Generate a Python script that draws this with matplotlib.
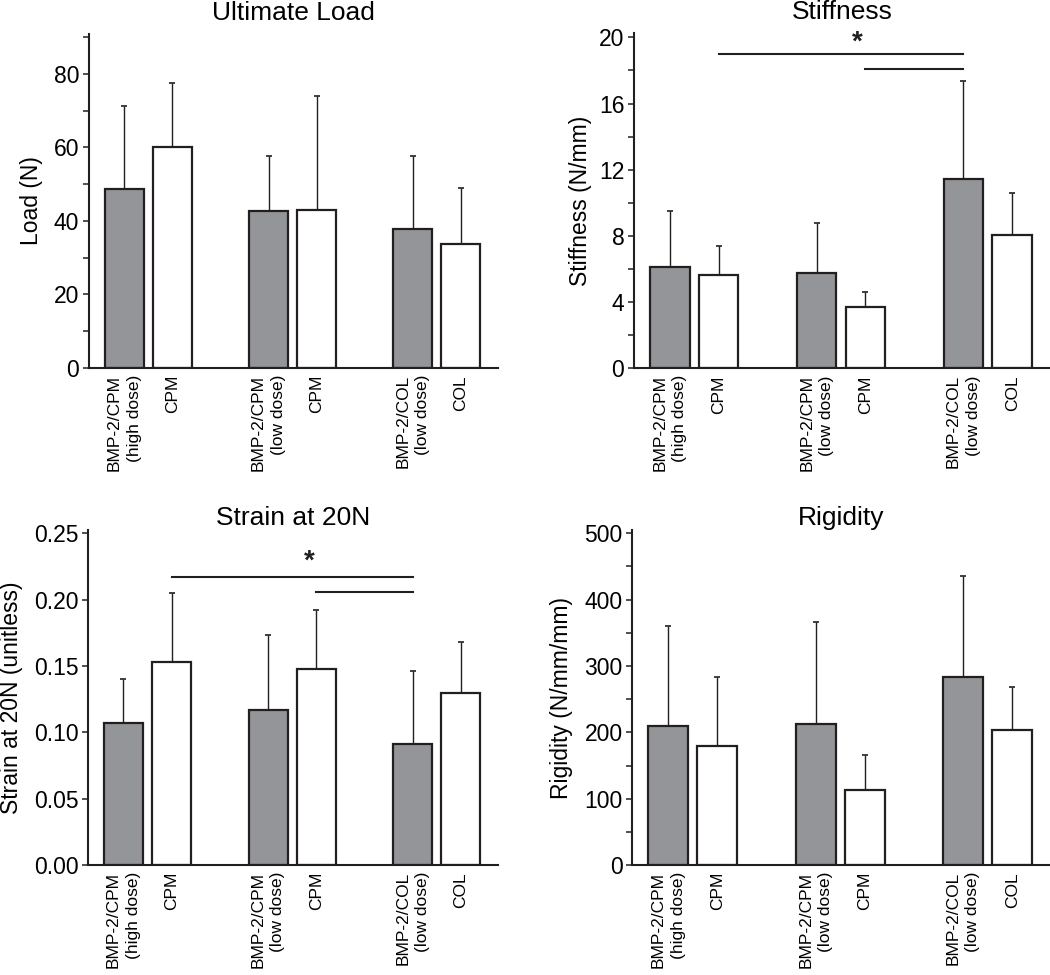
import matplotlib.pyplot as plt, numpy as np

plt.rcParams['font.family'] = ['Liberation Sans', 'DejaVu Sans']

groups = ["BMP-2/CPM\n(high dose)", "CPM", "BMP-2/CPM\n(low dose)", "CPM", "BMP-2/COL\n(low dose)", "COL"]
x_pos = [0, 1, 3, 4, 6, 7]
gray = "#939598"
ink = "#231f20"
fills = [gray, "white", gray, "white", gray, "white"]

# means and upper SD
load_mean = [48.6, 60.2, 42.6, 42.9, 37.8, 33.7]
load_sd = [22.7, 17.4, 15.1, 31.1, 19.9, 15.2]

stiff_mean = [6.10, 5.64, 5.78, 3.72, 11.42, 8.07]
stiff_sd = [3.40, 1.75, 3.02, 0.89, 5.96, 2.54]

strain_mean = [0.107, 0.153, 0.117, 0.1475, 0.091, 0.130]
strain_sd = [0.033, 0.052, 0.056, 0.0445, 0.0555, 0.038]

rigid_mean = [210, 180, 213, 113, 284, 203]
rigid_sd = [151, 103, 153, 53, 152, 65]

# significance brackets: (x from, x to, y)
stiff_sig = [(1, 6, 19.0), (4, 6, 18.07)]
stiff_star = (3.83, 19.7)
strain_sig = [(1, 6, 0.2168), (4, 6, 0.206)]
strain_star = (3.86, 0.2285)

fig = plt.figure(figsize=(10.5, 9.75), dpi=100)
ax1 = fig.add_axes([0.0848, 0.6226, 0.3895, 0.343])
ax2 = fig.add_axes([0.6038, 0.6223, 0.3962, 0.3436])
ax3 = fig.add_axes([0.0841, 0.1128, 0.3902, 0.3436])
ax4 = fig.add_axes([0.6022, 0.1128, 0.3978, 0.3436])


def panel(ax, means, sds, title, ylabel, top, major, minor, title_pad, label_x):
    ax.bar(x_pos, means, width=0.81, color=fills, edgecolor=ink, linewidth=1.6,
           yerr=[np.zeros(len(sds)), sds],
           error_kw=dict(ecolor=ink, elinewidth=1.0, capsize=2.5, capthick=1.2))
    ax.set_xlim(-0.73, 7.77)
    ax.set_ylim(0, top)
    ax.set_yticks(major)
    ax.set_yticks(minor, minor=True)
    ax.set_xticks(x_pos, groups, rotation=90, ha='center', va='top', ma='right',
                  fontsize=12.5, linespacing=1.4)
    ax.tick_params(axis='x', length=0, pad=5)
    ax.tick_params(axis='y', which='both', length=4, width=1.1, color=ink, labelsize=16.5, pad=3)
    for s in ['top', 'right']:
        ax.spines[s].set_visible(False)
    for s in ['left', 'bottom']:
        ax.spines[s].set_linewidth(1.5)
        ax.spines[s].set_color(ink)
    ax.set_title(title, fontsize=19, pad=title_pad)
    ax.set_ylabel(ylabel, fontsize=16.5)
    ax.yaxis.set_label_coords(label_x, 0.5)


def sig(ax, lines, star):
    for x0, x1, y in lines:
        ax.plot([x0, x1], [y, y], color=ink, lw=1.5)
    ax.text(star[0], star[1], "*", fontsize=20, fontweight='bold', ha='center', va='center', color=ink)


panel(ax1, load_mean, load_sd, "Ultimate Load", "Load (N)", 91,
      np.arange(0, 81, 20), np.arange(10, 91, 20), 10, -0.112)
panel(ax2, stiff_mean, stiff_sd, "Stiffness", "Stiffness (N/mm)", 20.25,
      np.arange(0, 21, 4), np.arange(2, 19, 4), 10, -0.102)
panel(ax3, strain_mean, strain_sd, "Strain at 20N", "Strain at 20N (unitless)", 0.2525,
      np.arange(0, 0.26, 0.05), [], 0, -0.16)
panel(ax4, rigid_mean, rigid_sd, "Rigidity", "Rigidity (N/mm/mm)", 505,
      np.arange(0, 501, 100), np.arange(50, 451, 100), 0, -0.143)

ax3.set_yticklabels([f"{v:.2f}" for v in np.arange(0, 0.26, 0.05)])

sig(ax2, stiff_sig, stiff_star)
sig(ax3, strain_sig, strain_star)

fig.savefig("out.png", dpi=100)
